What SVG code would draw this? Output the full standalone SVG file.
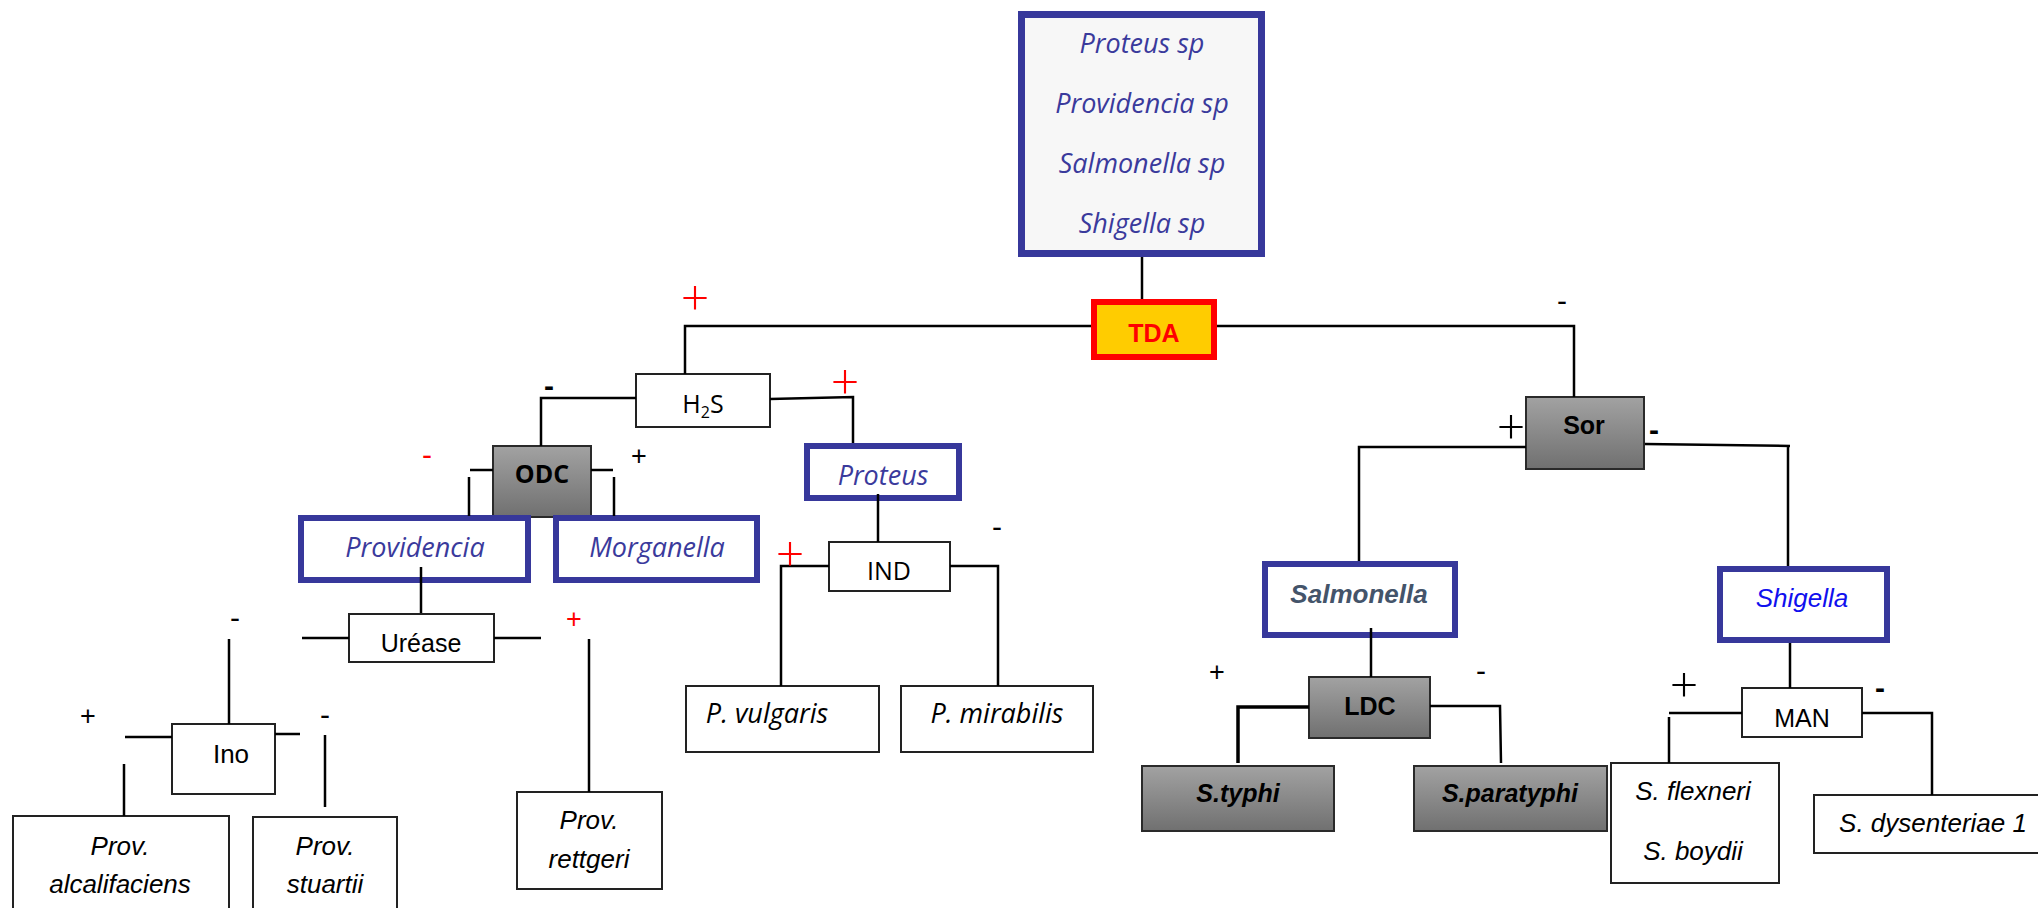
<svg xmlns="http://www.w3.org/2000/svg" width="2038" height="908" viewBox="0 0 2038 908">
  <defs>
    <linearGradient id="grey" x1="0" y1="0" x2="0" y2="1">
      <stop offset="0" stop-color="#a2a2a2"/>
      <stop offset="1" stop-color="#707070"/>
    </linearGradient>
    <style>
      .box { fill: #ffffff; stroke: #222222; stroke-width: 2; }
      .grey { fill: url(#grey); stroke: #2a2a2a; stroke-width: 2; }
      .genus { fill: #ffffff; stroke: #37389b; stroke-width: 6; }
      .wire { fill: none; stroke: #000000; stroke-width: 2.5; }
      .os { font-family: "Open Sans", "Noto Sans", sans-serif; font-size: 25px; fill: #000; text-anchor: middle; }
      .ls { font-family: "Liberation Sans", Arial, sans-serif; font-size: 26px; fill: #000; text-anchor: middle; }
      .it { font-style: italic; }
      .os.it { font-size: 27px; }
      .bd { font-weight: bold; }
      .navy { fill: #3a3a9c; }
      .sign { font-family: "Liberation Sans", Arial, sans-serif; text-anchor: middle; fill: #000; }
      .big { font-family: "Open Sans", "Liberation Sans", sans-serif; font-weight: 300; font-size: 50px; }
      .small { font-size: 27px; }
      .dash { font-size: 30px; }
      .red { fill: #ff0000; }
    </style>
  </defs>

  <!-- root: genera to identify -->
  <g id="root">
    <rect x="1021.5" y="14.5" width="240" height="239" fill="#f7f7f7" stroke="#37389b" stroke-width="7"/>
    <text class="os it navy" x="1142" y="53">Proteus sp</text>
    <text class="os it navy" x="1142" y="113">Providencia sp</text>
    <text class="os it navy" x="1142" y="173">Salmonella sp</text>
    <text class="os it navy" x="1142" y="233">Shigella sp</text>
  </g>

  <g id="tda">
    <rect x="1094" y="302" width="120" height="55" fill="#ffcc00" stroke="#ff0000" stroke-width="6"/>
    <text class="ls bd" x="1154" y="342" style="fill:#ff0000;font-size:25px">TDA</text>
  </g>

  <!-- TDA positive branch -->
  <g id="h2s">
    <rect class="box" x="636" y="374" width="134" height="53"/>
    <text class="os" x="703" y="413">H<tspan font-size="16" dy="5">2</tspan><tspan dy="-5">S</tspan></text>
  </g>

  <g id="odc">
    <rect class="grey" x="493" y="446" width="98" height="71"/>
    <text class="os bd" x="542" y="483">ODC</text>
  </g>

  <g id="providencia">
    <rect class="genus" x="301" y="518" width="227" height="62"/>
    <text class="os it navy" x="415" y="557">Providencia</text>
  </g>

  <g id="morganella">
    <rect class="genus" x="556" y="518" width="201" height="62"/>
    <text class="os it navy" x="657" y="557">Morganella</text>
  </g>

  <g id="urease">
    <rect class="box" x="349" y="614" width="145" height="48"/>
    <text class="ls" x="421" y="652" style="font-size:25px">Uréase</text>
  </g>

  <g id="ino">
    <rect class="box" x="172" y="724" width="103" height="70"/>
    <text class="ls" x="231" y="763">Ino</text>
  </g>

  <g id="prov-alcalifaciens">
    <rect class="box" x="13" y="816" width="216" height="104"/>
    <text class="ls it" x="120" y="855">Prov.</text>
    <text class="ls it" x="120" y="893">alcalifaciens</text>
  </g>

  <g id="prov-stuartii">
    <rect class="box" x="253" y="817" width="144" height="104"/>
    <text class="ls it" x="325" y="855">Prov.</text>
    <text class="ls it" x="325" y="893">stuartii</text>
  </g>

  <g id="prov-rettgeri">
    <rect class="box" x="517" y="792" width="145" height="97"/>
    <text class="ls it" x="589" y="829">Prov.</text>
    <text class="ls it" x="589" y="868">rettgeri</text>
  </g>

  <g id="proteus">
    <rect class="genus" x="807" y="446" width="152" height="52"/>
    <text class="os it navy" x="883" y="485">Proteus</text>
  </g>

  <g id="ind">
    <rect class="box" x="829" y="542" width="121" height="49"/>
    <text class="os" x="889" y="580">IND</text>
  </g>

  <g id="p-vulgaris">
    <rect class="box" x="686" y="686" width="193" height="66"/>
    <text class="os it" x="767" y="723">P. vulgaris</text>
  </g>

  <g id="p-mirabilis">
    <rect class="box" x="901" y="686" width="192" height="66"/>
    <text class="os it" x="997" y="723">P. mirabilis</text>
  </g>

  <!-- TDA negative branch -->
  <g id="sor">
    <rect class="grey" x="1526" y="397" width="118" height="72"/>
    <text class="ls bd" x="1584" y="434" style="font-size:25px">Sor</text>
  </g>

  <g id="salmonella">
    <rect class="genus" x="1265" y="564" width="190" height="71"/>
    <text class="ls it bd" x="1359" y="603" style="fill:#44546a">Salmonella</text>
  </g>

  <g id="ldc">
    <rect class="grey" x="1309" y="677" width="121" height="61"/>
    <text class="ls bd" x="1370" y="715" style="font-size:25px">LDC</text>
  </g>

  <g id="s-typhi">
    <rect class="grey" x="1142" y="766" width="192" height="65"/>
    <text class="ls it bd" x="1238" y="802" style="font-size:25px">S.typhi</text>
  </g>

  <g id="s-paratyphi">
    <rect class="grey" x="1414" y="766" width="193" height="65"/>
    <text class="ls it bd" x="1510" y="802" style="font-size:25px">S.paratyphi</text>
  </g>

  <g id="shigella">
    <rect class="genus" x="1720" y="569" width="167" height="71"/>
    <text class="ls it" x="1802" y="607" style="fill:#1010ee">Shigella</text>
  </g>

  <g id="man">
    <rect class="box" x="1742" y="688" width="120" height="49"/>
    <text class="ls" x="1802" y="727" style="font-size:25px">MAN</text>
  </g>

  <g id="s-flexneri-boydii">
    <rect class="box" x="1611" y="763" width="168" height="120"/>
    <text class="ls it" x="1693" y="800">S. flexneri</text>
    <text class="ls it" x="1693" y="860">S. boydii</text>
  </g>

  <g id="s-dysenteriae">
    <rect class="box" x="1814" y="795" width="232" height="58"/>
    <text class="ls it" x="1933" y="832">S. dysenteriae 1</text>
  </g>

  <!-- connectors -->
  <g id="connectors" class="wire">
    <path d="M1142 257 V299"/>
    <path d="M1091 326 H685 V374"/>
    <path d="M1217 326 H1574 V397"/>
    <path d="M636 398 H541 V446"/>
    <path d="M770 399 L853 397 V443"/>
    <path d="M493 470 H470 M469 477 V516"/>
    <path d="M591 470 H613 M614 477 V516"/>
    <path d="M421 567 V613"/>
    <path d="M349 638 H302 M494 638 H541"/>
    <path d="M229 639 V724"/>
    <path d="M589 639 V792"/>
    <path d="M172 737 H125 M275 734 H300"/>
    <path d="M124 764 V816 M325 735 V807"/>
    <path d="M878 494 V542"/>
    <path d="M829 566 H781 V686"/>
    <path d="M950 566 H998 V686"/>
    <path d="M1526 447 H1359 V561"/>
    <path d="M1645 444 L1790 446 M1788 446 V566"/>
    <path d="M1371 628 V677"/>
    <path d="M1309 707 H1238 V763" stroke-width="3.5"/>
    <path d="M1430 706 H1500 L1501 763"/>
    <path d="M1790 643 V688"/>
    <path d="M1742 713 H1669 M1669 717 V763"/>
    <path d="M1862 713 H1932 V795"/>
  </g>

  <!-- test result signs -->
  <g id="signs">
    <text class="sign big red" x="695" y="316">+</text>
    <text class="sign dash" x="1562" y="311">-</text>
    <text class="sign dash bd" x="549" y="396">-</text>
    <text class="sign big red" x="845" y="400">+</text>
    <text class="sign dash red" x="427" y="465">-</text>
    <text class="sign small" x="639" y="465">+</text>
    <text class="sign big red" x="790" y="572">+</text>
    <text class="sign dash" x="997" y="537">-</text>
    <text class="sign dash" x="235" y="628">-</text>
    <text class="sign small red" x="574" y="628">+</text>
    <text class="sign small" x="88" y="725">+</text>
    <text class="sign dash" x="325" y="725">-</text>
    <text class="sign big" x="1511" y="445">+</text>
    <text class="sign dash bd" x="1654" y="440">-</text>
    <text class="sign small" x="1217" y="681">+</text>
    <text class="sign dash" x="1481" y="681">-</text>
    <text class="sign big" x="1684" y="703">+</text>
    <text class="sign dash bd" x="1880" y="698">-</text>
  </g>
</svg>
